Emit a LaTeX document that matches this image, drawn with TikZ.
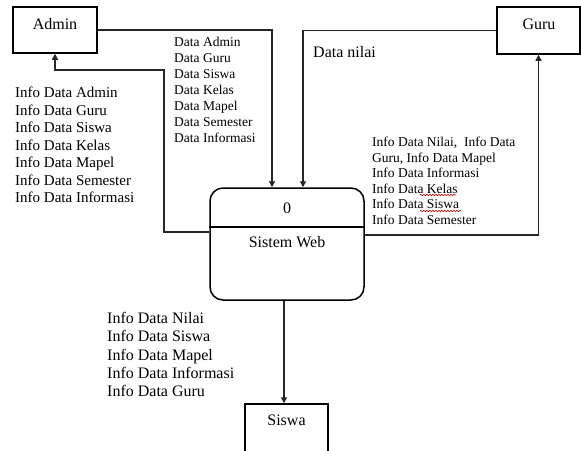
\documentclass[tikz,border=0pt]{standalone}
\usepackage{fontspec}
\setmainfont{Liberation Serif}
\usetikzlibrary{arrows.meta,decorations.pathmorphing}
\tikzset{
  box/.style={draw=black, line width=1.5pt, inner sep=0pt},
  conn/.style={draw=black!85, line width=1.3pt, -{Triangle[length=6pt,width=6pt]}},
  lbl/.style={inner sep=0pt, align=left, anchor=north west},
  btxt/.style={inner sep=0pt, anchor=base, font=\fontsize{16}{18}\selectfont},
  squig/.style={draw=red!80!black, line width=0.6pt, decorate, decoration={snake, amplitude=0.8pt, segment length=3pt}}
}
\begin{document}
\begin{tikzpicture}[x=1pt, y=-1pt]
\path[use as bounding box] (0,0) rectangle (581,450);
\clip (0,0) rectangle (581,450);
\fill[white] (0,0) rectangle (581,450);

% boxes
\node[box, minimum width=84pt, minimum height=46pt] (admin) at (55,30) {};
\node[btxt] (admintxt) at (55,29) {Admin};
\node[box, minimum width=83pt, minimum height=47pt] (guru) at (538.5,30.5) {};
\node[btxt] (gurutxt) at (539,29) {Guru};
\node[box, minimum width=154pt, minimum height=112pt, rounded corners=13pt] (proc) at (287,244) {};
\draw[line width=1.3pt] ([yshift=17pt]proc.west) -- ([yshift=17pt]proc.east);
\node[btxt] (procnum) at (287,213) {0};
\node[btxt] (proctxt) at (287,247) {Sistem Web};
\node[box, minimum width=83pt, minimum height=56pt] (siswa) at (286.5,432) {};
\node[btxt] (siswatxt) at (286.5,425) {Siswa};

% connectors
\draw[conn] (admin.east) -| ([xshift=-15pt]proc.north);
\draw[conn] (guru.west) -| ([xshift=16pt]proc.north);
\coordinate (lbend) at (164,70);
\draw[conn] ([yshift=12pt]proc.west) -| (lbend) -| (admin.south);
\draw[conn] ([yshift=9pt]proc.east) -| (guru.south);
\draw[conn] ([xshift=-3pt]proc.south) -- ([xshift=-2.5pt]siswa.north);

% labels
\node[lbl, font=\fontsize{15}{17.5}\selectfont] (leftlbl) at (15,87) {Info Data Admin\\Info Data Guru\\Info Data Siswa\\Info Data Kelas\\Info Data Mapel\\Info Data Semester\\Info Data Informasi};
\node[lbl, font=\fontsize{13.5}{16}\selectfont] (midlbl) at (174,37) {Data Admin\\Data Guru\\Data Siswa\\Data Kelas\\Data Mapel\\Data Semester\\Data Informasi};
\node[lbl, font=\fontsize{16}{18}\selectfont] (nilailbl) at (313,46) {Data nilai};
\node[lbl, font=\fontsize{13.5}{15.5}\selectfont] (rightlbl) at (372,137) {Info Data Nilai,\ \ Info Data\\Guru, Info Data Mapel\\Info Data Informasi\\Info Data Kelas\\Info Data Siswa\\Info Data Semester};
\node[lbl, font=\fontsize{16}{18.3}\selectfont] (botlbl) at (107,312) {Info Data Nilai\\Info Data Siswa\\Info Data Mapel\\Info Data Informasi\\Info Data Guru};

% spell-check marks
\draw[squig] (420,195) -- (456,195);
\draw[squig] (420,211) -- (461,211);
\end{tikzpicture}
\end{document}
